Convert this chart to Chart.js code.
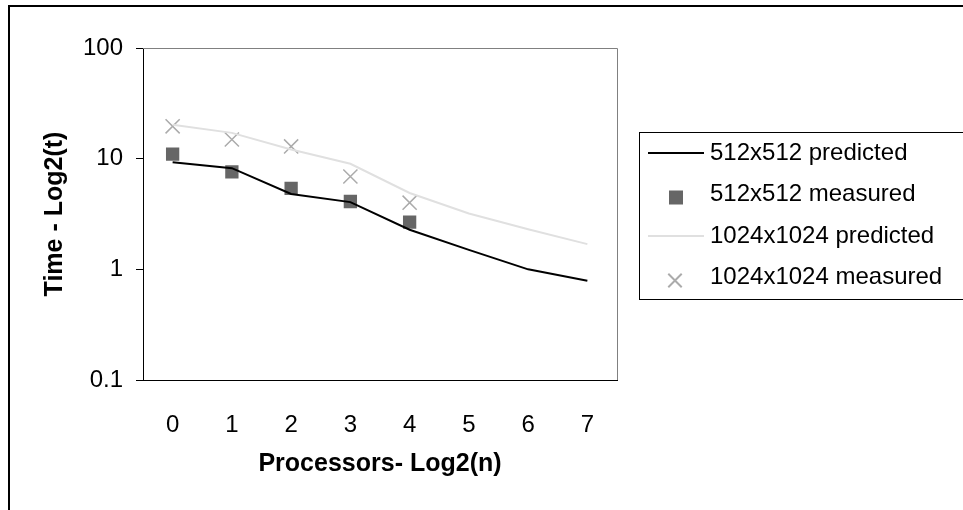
<!DOCTYPE html>
<html>
<head>
<meta charset="utf-8">
<script src="https://cdn.jsdelivr.net/npm/chart.js@4.4.1/dist/chart.umd.min.js"></script>
<style>
  html, body { margin: 0; padding: 0; background: #fff; }
  #wrap { position: relative; width: 963px; height: 510px; overflow: hidden; }
  #frame { position: absolute; left: 8px; top: 5px; right: -10px; bottom: -10px;
           border-top: 2px solid #000; border-left: 2px solid #000; pointer-events: none; }
  canvas { position: absolute; left: 0; top: 0; }
</style>
</head>
<body>
<div id="wrap">
  <canvas id="chart" width="963" height="510"></canvas>
  <div id="frame"></div>
</div>
<script>
// processors, log2(n)
const categories = ['0', '1', '2', '3', '4', '5', '6', '7'];

// time values
const predicted512 = [9.3, 8.2, 4.8, 4.05, 2.28, 1.5, 1.0, 0.79];
const measured512 = [11.0, 7.6, 5.4, 4.1, 2.67, null, null, null];
const predicted1024 = [20.3, 17.1, 12.1, 9.0, 4.9, 3.2, 2.3, 1.69];
const measured1024 = [19.6, 14.9, 12.9, 6.9, 4.0, null, null, null];

const yTicks = [0.1, 1, 10, 100];

Chart.defaults.font.family = '"Liberation Sans", Arial, sans-serif';
Chart.defaults.font.size = 24;
Chart.defaults.color = '#000';

// gray frame on top and right of the plot area
const plotFrame = {
  id: 'plotFrame',
  beforeDatasetsDraw(chart) {
    const { ctx, chartArea: a } = chart;
    ctx.save();
    ctx.strokeStyle = '#808080';
    ctx.lineWidth = 1;
    ctx.beginPath();
    ctx.moveTo(a.left, a.top + 0.5);
    ctx.lineTo(a.right + 0.5, a.top + 0.5);
    ctx.lineTo(a.right + 0.5, a.bottom);
    ctx.stroke();
    ctx.restore();
  }
};

// boxed legend to the right, drawn from the dataset styles
const boxLegend = {
  id: 'boxLegend',
  afterDraw(chart) {
    const ctx = chart.ctx;
    ctx.save();
    ctx.strokeStyle = '#000';
    ctx.lineWidth = 1;
    ctx.strokeRect(639.5, 132.5, 330, 167);
    ctx.font = '24px "Liberation Sans", Arial, sans-serif';
    ctx.textBaseline = 'middle';
    chart.data.datasets.forEach((ds, i) => {
      const y = 153 + i * 41.5;
      ctx.strokeStyle = ds.borderColor;
      ctx.fillStyle = ds.backgroundColor;
      if (ds.showLine !== false) {
        ctx.lineWidth = ds.borderWidth;
        ctx.beginPath();
        ctx.moveTo(648, y);
        ctx.lineTo(704, y);
        ctx.stroke();
      } else if (ds.pointStyle === 'rect') {
        ctx.fillRect(669, y - 4, 14, 14);
      } else {
        Chart.helpers.drawPoint(ctx, {
          pointStyle: ds.pointStyle,
          radius: 9.5,
          borderWidth: ds.borderWidth,
          rotation: 0
        }, 675, y + 3);
      }
      ctx.fillStyle = '#000';
      ctx.fillText(ds.label, 710, y);
    });
    ctx.restore();
  }
};

new Chart(document.getElementById('chart'), {
  type: 'line',
  data: {
    labels: categories,
    datasets: [
      {
        label: '512x512 predicted',
        data: predicted512,
        borderColor: '#000',
        backgroundColor: '#000',
        borderWidth: 2,
        pointRadius: 0,
        tension: 0
      },
      {
        label: '512x512 measured',
        data: measured512,
        showLine: false,
        pointStyle: 'rect',
        pointRadius: 9.4,
        borderWidth: 0,
        borderColor: '#666',
        backgroundColor: '#666'
      },
      {
        label: '1024x1024 predicted',
        data: predicted1024,
        borderColor: '#e0e0e0',
        backgroundColor: '#e0e0e0',
        borderWidth: 2,
        pointRadius: 0,
        tension: 0
      },
      {
        label: '1024x1024 measured',
        data: measured1024,
        showLine: false,
        pointStyle: 'crossRot',
        pointRadius: 10,
        borderWidth: 1.5,
        borderColor: '#ababab',
        backgroundColor: '#ababab'
      }
    ]
  },
  options: {
    responsive: false,
    animation: false,
    devicePixelRatio: 1,
    layout: { padding: { left: 0, top: 48, right: 346, bottom: 0 } },
    plugins: { legend: { display: false }, tooltip: { enabled: false } },
    scales: {
      x: {
        type: 'category',
        offset: true,
        grid: { display: false },
        border: { display: true, color: '#000', width: 1 },
        ticks: { padding: 23, maxRotation: 0 },
        title: {
          display: true,
          text: 'Processors- Log2(n)',
          font: { size: 25, weight: 'bold' },
          padding: { top: 0, bottom: 31 }
        },
        afterFit(scale) { scale.height = 130; }
      },
      y: {
        type: 'logarithmic',
        min: 0.1,
        max: 100,
        grid: { drawOnChartArea: false, drawTicks: true, tickLength: 7, color: '#000' },
        border: { display: true, color: '#000', width: 1 },
        ticks: {
          padding: 13,
          callback: (v) => String(v)
        },
        afterBuildTicks(scale) {
          scale.ticks = yTicks.map(v => ({ value: v, major: true }));
        },
        title: {
          display: true,
          text: 'Time - Log2(t)',
          font: { size: 25, weight: 'bold' },
          padding: { top: 40, bottom: 0 }
        },
        afterFit(scale) { scale.width = 143; }
      }
    }
  },
  plugins: [plotFrame, boxLegend]
});
</script>
</body>
</html>
